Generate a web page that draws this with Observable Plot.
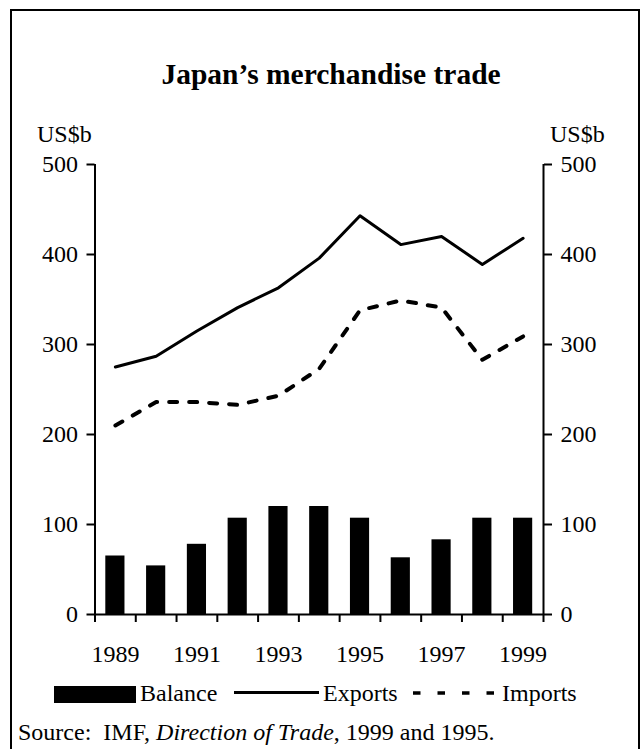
<!DOCTYPE html>
<html><head><meta charset="utf-8">
<script src="https://cdn.jsdelivr.net/npm/d3@7"></script>
<script src="https://cdn.jsdelivr.net/npm/@observablehq/plot@0.6"></script>
<style>
body{margin:0;background:#fff;}
#page{position:relative;width:642px;height:749px;overflow:hidden;font-family:"Liberation Serif","Times New Roman",serif;color:#000;background:#fff;}
#frame{position:absolute;left:10px;top:9px;width:630px;height:780px;border:2px solid #000;box-sizing:border-box;}
.t{position:absolute;white-space:nowrap;line-height:1;font-size:24px;}
#chart{position:absolute;left:0;top:0;}
</style></head>
<body><div id="page">
<div id="frame"></div>
<div id="chart"></div>
<div class="t" style="left:0;width:662px;top:60px;text-align:center;font-weight:bold;font-size:29.5px;">Japan’s merchandise trade</div>
<div class="t" style="left:37px;top:122px;">US$b</div>
<div class="t" style="left:550px;top:122px;">US$b</div>
<div style="position:absolute;left:54px;top:686px;width:82px;height:17px;background:#000;"></div>
<div class="t" style="left:140px;top:681px;">Balance</div>
<div style="position:absolute;left:234px;top:691px;width:85px;height:3px;background:#000;"></div>
<div class="t" style="left:323px;top:681px;">Exports</div>
<svg style="position:absolute;left:413px;top:688px;" width="82" height="10"><line x1="0" x2="82" y1="5" y2="5" stroke="#000" stroke-width="3.5" stroke-dasharray="7.5,17"/></svg>
<div class="t" style="left:502px;top:681px;">Imports</div>
<div class="t" style="left:18px;top:720px;">Source:&nbsp; IMF, <i>Direction of Trade</i>, 1999 and 1995.</div>
</div>
<script>
const years = [1989, 1990, 1991, 1992, 1993, 1994, 1995, 1996, 1997, 1998, 1999];
const exportsV = [275, 287, 315, 341, 363, 396, 443, 411, 420, 389, 418];
const importsV = [210, 236, 236, 233, 243, 273, 338, 349, 341, 283, 309];
const balanceV = [65, 54, 78, 107, 120, 120, 107, 63, 83, 107, 107];
const yTicks = [0, 100, 200, 300, 400, 500];
const xLabels = [1989, 1991, 1993, 1995, 1997, 1999];

const rows = years.map((year, i) => ({year, exports: exportsV[i], imports: importsV[i], balance: balanceV[i]}));
const bounds = [...years.map(y => y - 0.5), years[years.length - 1] + 0.5];
const x0 = bounds[0], x1 = bounds[bounds.length - 1];

const chart = Plot.plot({
  width: 642,
  height: 680,
  marginLeft: 94.5,
  marginRight: 99,
  marginTop: 164,
  marginBottom: 66,
  style: {background: "transparent", fontFamily: "'Liberation Serif', 'Times New Roman', serif", fontSize: "24px", color: "#000", overflow: "visible"},
  x: {domain: [x0, x1]},
  y: {domain: [0, 500]},
  marks: [
    Plot.rectY(rows, {x1: d => d.year - 0.235, x2: d => d.year + 0.235, y: "balance", fill: "#000"}),
    Plot.line(rows, {x: "year", y: "exports", stroke: "#000", strokeWidth: 3}),
    Plot.line(rows, {x: "year", y: "imports", stroke: "#000", strokeWidth: 4, strokeDasharray: "8,12"}),
    Plot.ruleY([0], {x1: x0, x2: x1, stroke: "#000", strokeWidth: 2}),
    Plot.ruleX([x0, x1], {y1: 0, y2: 500, stroke: "#000", strokeWidth: 2}),
    Plot.axisY({anchor: "left", ticks: yTicks, tickSize: 8, tickPadding: 9, strokeWidth: 2, fontSize: 24, tickFormat: d => String(d), label: null}),
    Plot.axisY({anchor: "right", ticks: yTicks, tickSize: 8, tickPadding: 9, strokeWidth: 2, fontSize: 24, tickFormat: d => String(d), label: null}),
    Plot.axisX({ticks: bounds, tickSize: 8, strokeWidth: 2, tickFormat: () => "", label: null}),
    Plot.axisX({ticks: xLabels, tickSize: 0, tickPadding: 30, fontSize: 24, tickFormat: d => String(d), label: null})
  ]
});
document.getElementById("chart").appendChild(chart);
</script>
</body></html>
